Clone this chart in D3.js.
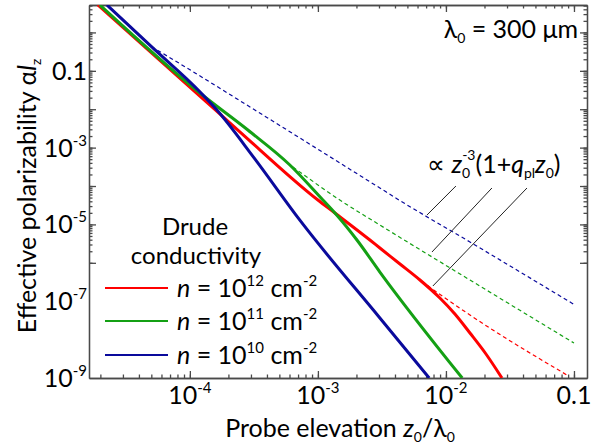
<!DOCTYPE html>
<html><head><meta charset="utf-8">
<script src="https://cdn.jsdelivr.net/npm/d3@7"></script>
<style>
body{margin:0;background:#fff}
svg{display:block}
text{font-family:Lato,"Open Sans",sans-serif;fill:#000}
</style>
</head><body>
<svg id="chart" width="615" height="447"></svg>
<script>
// ---------- data (z0/lambda0 , effective polarizability) ----------
const redSolid = [[1.91e-5,5.18],[1.197e-4,2.208e-2],[2.371e-4,2.871e-3],[1.0e-3,4.315e-5],[1.358e-3,1.982e-5],[2.547e-3,3.926e-6],[3.048e-3,2.427e-6],[4.375e-3,9.31e-7],[6.266e-3,3.565e-7],[8.97e-3,1.211e-7],[1.175e-2,4.645e-8],[1.54e-2,1.486e-8],[2.054e-2,4.217e-9],[2.738e-2,1.0e-9]];
const greenSolid = [[1.982e-5,5.18],[1.197e-4,2.642e-2],[2.838e-4,2.871e-3],[6.039e-4,3.524e-4],[1.094e-3,4.315e-5],[1.358e-3,1.982e-5],[2.018e-3,3.926e-6],[3.048e-3,5.754e-7],[1.34e-2,1.0e-9]];
const blueSolid = [[2.249e-5,5.18],[5.012e-5,0.4266],[1.197e-4,2.858e-2],[1.596e-4,1.023e-2],[3.162e-4,5.495e-4],[7.228e-4,1.288e-5],[3.048e-3,3.652e-8],[7.4e-3,1.0e-9]];
const redDashed = [[4.375e-3,9.31e-7],[7.112e-3,2.642e-7],[1.54e-2,4.375e-8],[8.81e-2,1.197e-9]];
const greenDashed = [[6.383e-4,3.126e-4],[1.567e-3,3.828e-5],[3.048e-3,9.638e-6],[1.54e-2,3.565e-7],[0.1,8.147e-9]];
const blueDashed = [[5.012e-5,0.4266],[9.141e-5,0.1279],[3.221e-4,9.528e-3],[3.048e-3,8.872e-5],[4.14e-3,4.677e-5],[1.54e-2,3.483e-6],[0.1019,7.962e-8]];
const pointerLines = [[[7.112e-3,1.758e-5],[1.197e-2,1e-4]],[[7.78e-3,1.91e-6],[2.286e-2,8.872e-5]],[[7.907e-3,2.489e-7],[4.295e-2,8.872e-5]]];

const xTicks = [1e-4,1e-3,1e-2,0.1];
const xTickLabels = [["10","-4"],["10","-3"],["10","-2"],["0.1",""]];
const yTicks = [0.1,1e-3,1e-5,1e-7,1e-9];
const yTickLabels = [["0.1",""],["10","-3"],["10","-5"],["10","-7"],["10","-9"]];
const legendLabels = [["12"],["11"],["10"]];
const seriesColors = ["#ff0000","#14a014","#0a0a9c"];

// ---------- layout ----------
const L=89, R=587, T=5, B=378;
const svg = d3.select("#chart");
const x = d3.scaleLog().domain([1.63e-5,0.1264]).range([L,R]);
const y = d3.scaleLog().domain([1e-9,5.18]).range([B,T]);

// minor tick values
const xMinor=[], yMinor=[];
for(let k=-6;k<=0;k++) for(let m=1;m<=9;m++){
  const v=m*Math.pow(10,k);
  if(v>=x.domain()[0]&&v<=x.domain()[1]) xMinor.push(v);
  if(v>=y.domain()[0]&&v<=y.domain()[1]) yMinor.push(v);
}
const isMajor = v=>Math.abs(Math.log10(v)-Math.round(Math.log10(v)))<1e-9;
const yMajorAll = yMinor.filter(isMajor);
const xMajorAll = xMinor.filter(isMajor);

const axCol="#4a4a4a";
function styleAxis(g){g.selectAll("path,line").attr("stroke",axCol).attr("stroke-width",1.3);g.selectAll("text").remove();}
function addAxis(axisFn, scale, tr, vals, size){
  svg.append("g").attr("transform",tr).call(axisFn(scale).tickValues(vals).tickSize(size).tickSizeOuter(0).tickFormat("")).call(styleAxis);
}
addAxis(d3.axisBottom,x,`translate(0,${B})`,xMinor,-3.5);
addAxis(d3.axisBottom,x,`translate(0,${B})`,xMajorAll,-7);
addAxis(d3.axisTop,x,`translate(0,${T})`,xMinor,-3.5);
addAxis(d3.axisTop,x,`translate(0,${T})`,xMajorAll,-7);
addAxis(d3.axisLeft,y,`translate(${L},0)`,yMinor,-3.5);
addAxis(d3.axisLeft,y,`translate(${L},0)`,yMajorAll,-7);
addAxis(d3.axisRight,y,`translate(${R},0)`,yMinor,-3.5);
addAxis(d3.axisRight,y,`translate(${R},0)`,yMajorAll,-7);

// tick labels
const fs=25, sup=15;
xTicks.forEach((v,i)=>{
  const t=svg.append("text").attr("x",x(v)).attr("y",B+26).attr("text-anchor","middle").style("font-size",fs+"px");
  t.append("tspan").text(xTickLabels[i][0]);
  if(xTickLabels[i][1]) t.append("tspan").attr("dy",-11).style("font-size",sup+"px").text(xTickLabels[i][1]);
});
yTicks.forEach((v,i)=>{
  const t=svg.append("text").attr("x",L-2).attr("y",y(v)+9).attr("text-anchor","end").style("font-size",fs+"px");
  t.append("tspan").text(yTickLabels[i][0]);
  if(yTickLabels[i][1]) t.append("tspan").attr("dy",-11).style("font-size",sup+"px").text(yTickLabels[i][1]);
});

// clip
svg.append("clipPath").attr("id","clip").append("rect").attr("x",L).attr("y",T).attr("width",R-L).attr("height",B-T);
const plot = svg.append("g").attr("clip-path","url(#clip)");
const line = d3.line().x(d=>x(d[0])).y(d=>y(d[1])).curve(d3.curveMonotoneX);

[redSolid,greenSolid,blueSolid].forEach((s,i)=>{
  plot.append("path").datum(s).attr("d",line).attr("fill","none").attr("stroke",seriesColors[i]).attr("stroke-width",3);
});
[redDashed,greenDashed,blueDashed].forEach((s,i)=>{
  plot.append("path").datum(s).attr("d",line).attr("fill","none").attr("stroke",seriesColors[i]).attr("stroke-width",1.2).attr("stroke-dasharray","4,3");
});
pointerLines.forEach(p=>{
  svg.append("line").attr("x1",x(p[0][0])).attr("y1",y(p[0][1])).attr("x2",x(p[1][0])).attr("y2",y(p[1][1])).attr("stroke","#222").attr("stroke-width",1);
});

// axis titles
const xt=svg.append("text").attr("x",340).attr("y",437).attr("text-anchor","middle").style("font-size","25px");
xt.append("tspan").text("Probe elevation ");
xt.append("tspan").style("font-style","italic").text("z");
xt.append("tspan").attr("dy",5).style("font-size","14px").text("0");
xt.append("tspan").attr("dy",-5).text("/λ");
xt.append("tspan").attr("dy",5).style("font-size","14px").text("0");

const yt=svg.append("text").attr("transform","translate(36,196) rotate(-90)").attr("text-anchor","middle").style("font-size","25px");
yt.append("tspan").text("Effective polarizability α");
yt.append("tspan").style("font-style","italic").text("l");
yt.append("tspan").attr("dy",5).style("font-size","14px").text("z");

// lambda label
const lt=svg.append("text").attr("x",578).attr("y",38).attr("text-anchor","end").style("font-size","25px");
lt.append("tspan").text("λ");
lt.append("tspan").attr("dy",5).style("font-size","14px").text("0");
lt.append("tspan").attr("dy",-5).text(" = 300 μm");

// proportional annotation
const at=svg.append("text").attr("x",427).attr("y",173).style("font-size","25px");
at.append("tspan").text("∝ ");
at.append("tspan").style("font-style","italic").text("z");
at.append("tspan").attr("dy",5).style("font-size","14px").text("0");
at.append("tspan").attr("dx",-8).attr("dy",-18).style("font-size","14px").text("-3");
at.append("tspan").attr("dy",13).text("(1+");
at.append("tspan").style("font-style","italic").text("q");
at.append("tspan").attr("dy",5).style("font-size","14px").text("pl");
at.append("tspan").attr("dy",-5).style("font-style","italic").text("z");
at.append("tspan").attr("dy",5).style("font-size","14px").text("0");
at.append("tspan").attr("dy",-5).text(")");

// legend
svg.append("text").attr("x",195).attr("y",235).attr("text-anchor","middle").style("font-size","24px").text("Drude");
svg.append("text").attr("x",196).attr("y",264).attr("text-anchor","middle").style("font-size","24px").text("conductivity");
const legY=[288,321,355];
legendLabels.forEach((lab,i)=>{
  svg.append("line").attr("x1",105).attr("x2",168).attr("y1",legY[i]).attr("y2",legY[i]).attr("stroke",seriesColors[i]).attr("stroke-width",2);
  const t=svg.append("text").attr("x",177).attr("y",legY[i]+9).style("font-size","25px");
  t.append("tspan").style("font-style","italic").text("n");
  t.append("tspan").text(" = 10");
  t.append("tspan").attr("dy",-11).style("font-size","15px").text(lab[0]);
  t.append("tspan").attr("dy",11).text(" cm");
  t.append("tspan").attr("dy",-11).style("font-size","15px").text("-2");
});
</script>
</body></html>
